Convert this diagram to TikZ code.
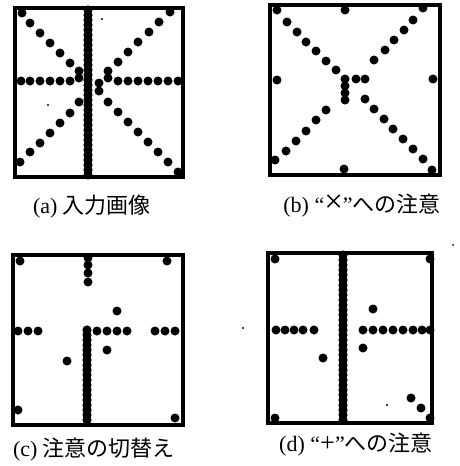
\documentclass[tikz,border=0pt]{standalone}
\usepackage{graphicx}
\usepackage{fontspec}
\setmainfont{Liberation Serif}
\newfontfamily\cjk{Noto Sans CJK JP}
\tikzset{
  frame/.style={draw=black, line width=3.5pt},
  blob/.style={fill=black},
  caption/.style={inner sep=0pt, font=\fontsize{22}{25}\selectfont}
}
\begin{document}
\begin{tikzpicture}[x=1pt,y=-1pt]
\useasboundingbox (0,0) rectangle (459,466);
\fill[white] (0,0) rectangle (459,466);
% ---------- (a) ----------
\draw[frame] (15,8) rectangle (183,177);
\foreach \y in {10,15,...,175} \fill[blob] (88,\y) circle (4.6);
\foreach \x in {21,30,40,50,60,70,118,128,138,148,158,168,178} \fill[blob] (\x,81) circle (4.5);
\foreach \p in {(22,13),(30,23),(40,33),(50,43),(60,53),(70,63),(79,71),(79,78),
  (170,12),(159,22),(149,32),(138,42),(128,52),(118,62),(108,71),(108,78),
  (20,162),(30,152),(40,143),(50,133),(60,123),(70,113),(79,102),
  (99,83),(99,91),(108,102),(118,112),(128,122),(138,132),(148,142),(158,152),(168,162),(178,172)}
  \fill[blob] \p circle (4.5);
\fill[blob] (102,19) circle (1.2);
\fill[blob] (48,105) circle (1.2);
% ---------- (b) ----------
\draw[frame] (270,5) rectangle (440,175);
\foreach \p in {(277,10),(423,8),(275,160),(432,170),(345,10),(344,169),(277,80),(433,79),
  (287,22),(297,32),(306,42),(316,51),(326,61),(336,70),
  (413,20),(404,30),(394,40),(385,50),(374,60),
  (345,79),(345,86),(345,93),(345,100),(356,79),(365,79),
  (286,151),(296,141),(306,131),(316,120),(326,110),
  (365,99),(374,109),(384,119),(393,129),(403,139),(413,149),(423,159)}
  \fill[blob] \p circle (4.5);
% ---------- (c) ----------
\draw[frame] (13,255) rectangle (183,425);
\foreach \y in {330,335,...,422} \fill[blob] (87,\y) circle (4.6);
\foreach \p in {(20,261),(167,261),(18,410),(175,418),
  (88,258),(88,265),(88,273),(88,282),
  (18,331),(28,331),(38,331),(155,331),(165,331),(175,331),
  (97,331),(107,331),(117,331),(127,331),
  (117,311),(107,350),(67,361)}
  \fill[blob] \p circle (4.5);
% ---------- (d) ----------
\draw[frame] (268,253) rectangle (432,423);
\foreach \y in {255,260,...,421} \fill[blob] (343,\y) circle (4.6);
\foreach \p in {(275,259),(430,259),(275,418),(430,418),
  (276,330),(285,330),(294,330),(303,330),(314,330),
  (363,330),(373,330),(383,330),(393,330),(403,330),(413,330),(422,330),(430,330),
  (373,309),(363,348),(323,358),(411,398),(421,408)}
  \fill[blob] \p circle (4.5);
\fill[blob] (243,328) circle (1.2);
\fill[blob] (387,405) circle (1.2);
\fill[blob] (453,245) circle (1);
% ---------- captions ----------
\node[caption] (capa) at (92,207) {(a) {\cjk 入力画像}};
\node[caption] (capb) at (362,206) {(b) “\scalebox{1.5}{×}”{\cjk への注意}};
\node[caption] (capc) at (94,450) {(c) {\cjk 注意の切替え}};
\node[caption] (capd) at (356,445) {(d) “\scalebox{1.2}{+}”{\cjk への注意}};
\end{tikzpicture}
\end{document}
